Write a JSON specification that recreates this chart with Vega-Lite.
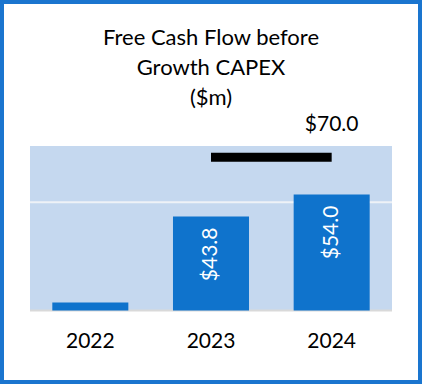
{
  "$schema": "https://vega.github.io/schema/vega-lite/v6.json",
  "width": 422,
  "height": 384,
  "padding": 0,
  "autosize": {"type": "none"},
  "background": "white",
  "title": {
    "text": ["Free Cash Flow before", "Growth CAPEX", "($m)"],
    "font": "Lato",
    "fontSize": 22,
    "fontWeight": "normal",
    "color": "black",
    "lineHeight": 30,
    "anchor": "middle",
    "frame": "group",
    "baseline": "top",
    "offset": -110
  },
  "config": {
    "font": "Lato",
    "view": {"stroke": "#1A75CF", "strokeWidth": 8, "fill": "white"}
  },
  "resolve": {"scale": {"x": "independent"}, "axis": {"x": "independent"}},
  "layer": [
    {
      "data": {"values": [{}]},
      "layer": [
        {
          "mark": {"type": "rect", "color": "#C5D8EF"},
          "encoding": {
            "x": {"datum": 0, "type": "quantitative", "scale": {"domain": [-0.0829, 1.0829], "nice": false, "zero": false}, "axis": null},
            "x2": {"datum": 1},
            "y": {"datum": 0, "type": "quantitative"},
            "y2": {"datum": 76.6}
          }
        },
        {
          "mark": {"type": "rule", "color": "#EEF2F7", "strokeWidth": 2, "yOffset": -1},
          "encoding": {
            "x": {"datum": 0, "type": "quantitative", "axis": null},
            "x2": {"datum": 1},
            "y": {"datum": 50, "type": "quantitative"}
          }
        },
        {
          "mark": {"type": "rule", "color": "#D9D9D9", "strokeWidth": 2},
          "encoding": {
            "x": {"datum": 0, "type": "quantitative", "axis": null},
            "x2": {"datum": 1},
            "y": {"datum": 0, "type": "quantitative"}
          }
        }
      ]
    },
    {
      "resolve": {"scale": {"x": "shared"}, "axis": {"x": "shared"}},
      "layer": [
        {
          "data": {"values": [
            {"year": "2022", "fcf": 3.7},
            {"year": "2023", "fcf": 43.8},
            {"year": "2024", "fcf": 54.0}
          ]},
          "layer": [
            {
              "mark": {"type": "bar", "color": "#0F73CC"},
              "encoding": {
                "x": {
                  "field": "year", "type": "nominal",
                  "scale": {"paddingInner": 0.37, "paddingOuter": 0.4335},
                  "axis": {
                    "title": null, "domain": false, "ticks": false, "tickSize": 0, "grid": false,
                    "labelAngle": 0, "labelFontSize": 21, "labelFont": "Lato", "labelColor": "black",
                    "labelBaseline": "middle", "labelPadding": 30, "offset": -73
                  }
                },
                "y": {
                  "field": "fcf", "type": "quantitative",
                  "scale": {"domain": [-34.2, 144.6], "nice": false, "zero": false},
                  "axis": null
                },
                "y2": {"datum": 0}
              }
            },
            {
              "transform": [{"filter": "datum.fcf > 10"}],
              "mark": {"type": "text", "angle": 270, "align": "right", "baseline": "middle", "dx": -11, "fontSize": 21, "color": "white"},
              "encoding": {
                "x": {"field": "year", "type": "nominal"},
                "y": {"field": "fcf", "type": "quantitative"},
                "text": {"field": "fcf", "type": "quantitative", "format": "$.1f"}
              }
            }
          ]
        },
        {
          "data": {"values": [{"from": "2023", "to": "2024", "target": 70.0}]},
          "layer": [
            {
              "mark": {"type": "rule", "color": "black", "strokeWidth": 9, "yOffset": -3},
              "encoding": {
                "x": {"field": "from", "type": "nominal"},
                "x2": {"field": "to"},
                "y": {"field": "target", "type": "quantitative"}
              }
            },
            {
              "mark": {"type": "text", "baseline": "middle", "dy": -35, "fontSize": 21, "color": "black"},
              "encoding": {
                "x": {"field": "to", "type": "nominal"},
                "y": {"field": "target", "type": "quantitative"},
                "text": {"field": "target", "type": "quantitative", "format": "$.1f"}
              }
            }
          ]
        }
      ]
    }
  ]
}
